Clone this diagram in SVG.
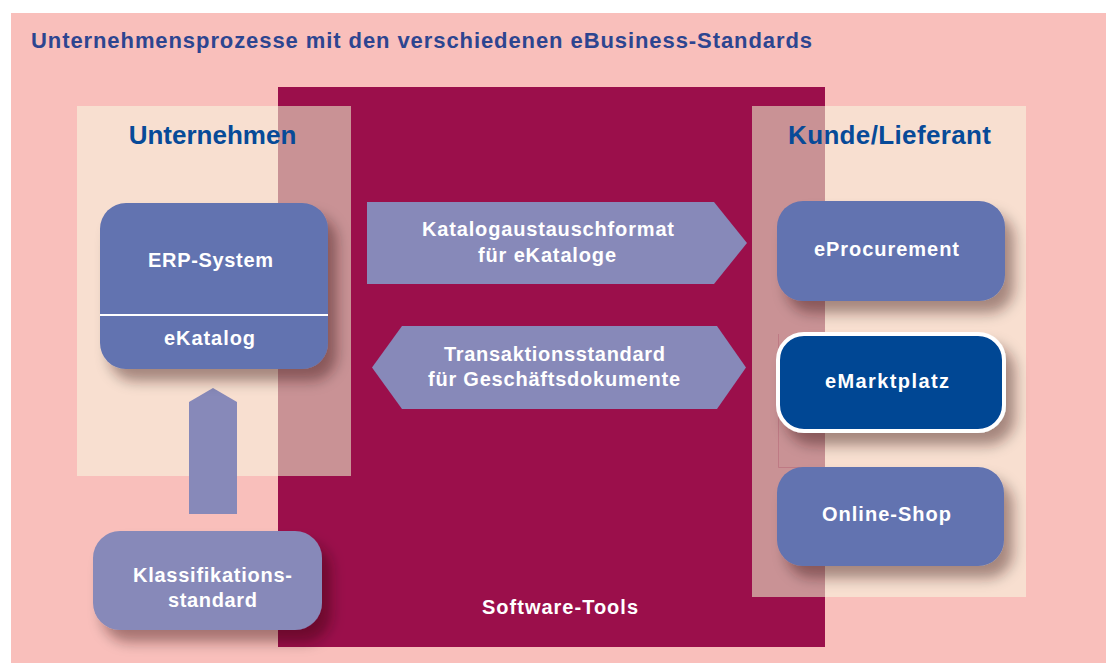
<svg xmlns="http://www.w3.org/2000/svg" width="1106" height="663" viewBox="0 0 1106 663">
<defs>
<filter id="sh" x="-20%" y="-20%" width="150%" height="170%">
<feDropShadow dx="9" dy="12" stdDeviation="7" flood-color="#2a0010" flood-opacity="0.4"/>
</filter>
<style>
.lbl{font-family:"Liberation Sans",Arial,sans-serif;font-weight:bold;fill:#ffffff;font-size:20px}
.head{font-family:"Liberation Sans",Arial,sans-serif;font-weight:bold;fill:#074a98;font-size:26px}
.box{fill:#6273b0;filter:url(#sh)}
.lav{fill:#8789b9}
</style>
</defs>
<rect x="0" y="0" width="1106" height="663" fill="#ffffff"/>
<rect x="11" y="13" width="1095" height="650" fill="#f9bfbb"/>
<text x="31" y="48" textLength="781" font-family="Liberation Sans, Arial, sans-serif" font-weight="bold" font-size="22" fill="#2d4590">Unternehmensprozesse mit den verschiedenen eBusiness-Standards</text>
<g id="software-tools">
<rect x="278" y="87" width="547" height="560" fill="#9b0f4b"/>
<text class="lbl" x="482" y="614" textLength="156">Software-Tools</text>
</g>
<g id="unternehmen">
<rect x="77" y="106" width="274" height="370" fill="#f8dfd0"/>
<rect x="278" y="106" width="73" height="370" fill="#c99295"/>
<text class="head" x="212.5" y="144" text-anchor="middle">Unternehmen</text>
</g>
<g id="kunde-lieferant">
<rect x="752" y="106" width="274" height="491" fill="#f8dfd0"/>
<rect x="752" y="106" width="73" height="491" fill="#c99295"/>
<text class="head" x="788" y="144" textLength="203">Kunde/Lieferant</text>
</g>
<path d="M778.5 334 V467.5 H823" fill="none" stroke="#b86a7a" stroke-width="1" opacity="0.6"/>
<g id="connectors">
<polygon class="lav" points="189,514 189,402 213,388 237,402 237,514"/>
<polygon class="lav" points="367,202 714,202 747,243 714,284 367,284"/>
<polygon class="lav" points="372,367.5 402,326 717,326 746,367.5 717,409 402,409"/>
</g>
<g id="katalogaustauschformat">
<text class="lbl" x="422" y="236" textLength="252">Katalogaustauschformat</text>
<text class="lbl" x="478" y="262" textLength="138">für eKataloge</text>
</g>
<g id="transaktionsstandard">
<text class="lbl" x="444" y="361" textLength="221">Transaktionsstandard</text>
<text class="lbl" x="428" y="386" textLength="252">für Geschäftsdokumente</text>
</g>
<g id="erp-system">
<rect class="box" x="100" y="203" width="228" height="166" rx="26" ry="26"/>
<line x1="100" y1="315" x2="328" y2="315" stroke="#ffffff" stroke-width="2"/>
<text class="lbl" x="148" y="267" textLength="125">ERP-System</text>
<text class="lbl" x="164" y="345" textLength="91">eKatalog</text>
</g>
<g id="klassifikationsstandard">
<rect x="93" y="531" width="229" height="99" rx="27" ry="27" fill="#8789b9" filter="url(#sh)"/>
<text class="lbl" x="133" y="582" textLength="159">Klassifikations-</text>
<text class="lbl" x="168" y="607" textLength="89">standard</text>
</g>
<g id="eprocurement">
<rect class="box" x="777" y="201" width="228" height="100" rx="26" ry="26"/>
<text class="lbl" x="814" y="256" textLength="145">eProcurement</text>
</g>
<g id="emarktplatz">
<rect x="778" y="334" width="226" height="97" rx="26" ry="26" fill="#034694" stroke="#ffffff" stroke-width="4" filter="url(#sh)"/>
<text class="lbl" x="825" y="388" textLength="124">eMarktplatz</text>
</g>
<g id="online-shop">
<rect class="box" x="777" y="467" width="227" height="99" rx="26" ry="26"/>
<text class="lbl" x="822" y="521" textLength="129">Online-Shop</text>
</g>
</svg>
